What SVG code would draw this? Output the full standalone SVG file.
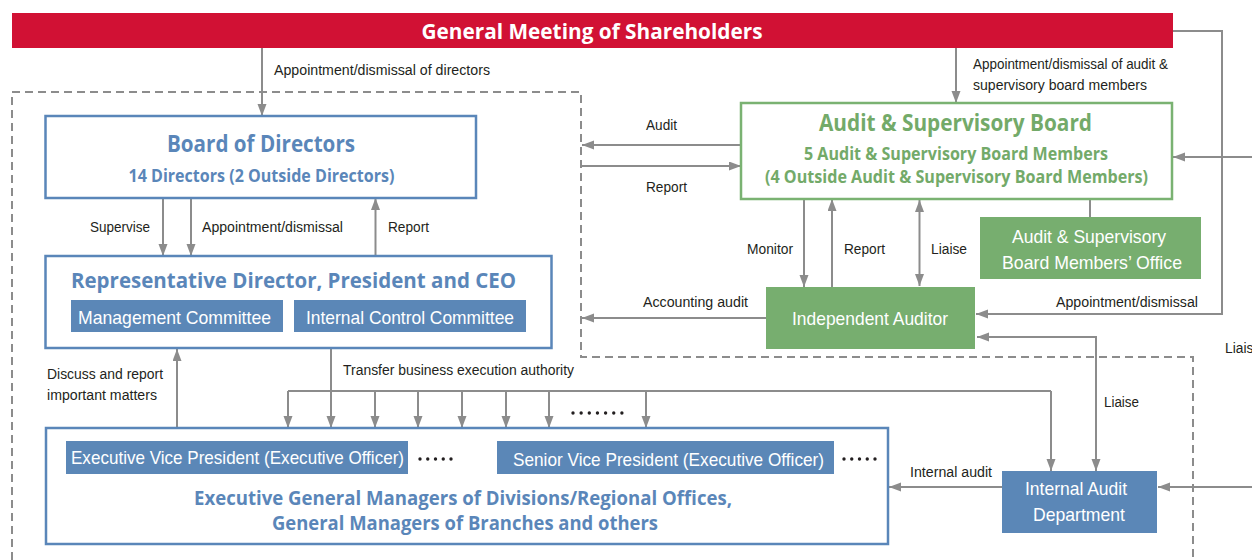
<svg xmlns="http://www.w3.org/2000/svg" width="1252" height="560" viewBox="0 0 1252 560">
<defs>
<marker id="ah" markerUnits="userSpaceOnUse" markerWidth="13" markerHeight="10" refX="12" refY="4.5" orient="auto-start-reverse"><path d="M0,0 L12,4.5 L0,9 z" fill="#8c8c8c"/></marker>
</defs>
<style>
.lbl{font-family:"Liberation Sans Narrow","Liberation Sans",sans-serif;font-size:14px;fill:#231f20}
.wt{font-family:"Liberation Sans Narrow","Liberation Sans",sans-serif;font-size:19px;fill:#ffffff}
.bt{font-family:"Open Sans","Noto Sans",sans-serif;font-weight:700;fill:#5a86b9}
.gt{font-family:"Open Sans","Noto Sans",sans-serif;font-weight:700;fill:#73aa69}
.ht{font-family:"Open Sans","Noto Sans",sans-serif;font-weight:700;fill:#ffffff;font-size:21px}
.ln{fill:none;stroke:#8c8c8c;stroke-width:2}
.arr{marker-end:url(#ah)}
.dbl{marker-start:url(#ah);marker-end:url(#ah)}
.bbox{fill:#ffffff;stroke:#5a86b9;stroke-width:2.5}
.bfill{fill:#5b87b7}
.gbox{fill:#ffffff;stroke:#7ab272;stroke-width:2.5}
.gfill{fill:#77ae6f}
.dash{fill:none;stroke:#8c8c8c;stroke-width:2;stroke-dasharray:8 5}
.dots{fill:none;stroke:#231f20;stroke-width:3.4;stroke-linecap:round}
</style>

<path class="dash" d="M12,560 L12,92 L581,92 L581,357 L1193,357 L1193,560"/>

<g id="connectors">
  <path class="ln arr" d="M262,48 V116"/>
  <path class="ln arr" d="M956,48 V103"/>
  <path class="ln arr" d="M1173,31 H1222 V314 H976"/>
  <path class="ln arr" d="M741,145 H582"/>
  <path class="ln arr" d="M582,166 H741"/>
  <path class="ln arr" d="M1252,157 H1173"/>
  <path class="ln arr" d="M163,198 V256"/>
  <path class="ln arr" d="M191,198 V256"/>
  <path class="ln arr" d="M375.5,256 V198"/>
  <path class="ln arr" d="M804,199 V287"/>
  <path class="ln arr" d="M832,287 V199"/>
  <path class="ln dbl" d="M919.5,200 V286"/>
  <path class="ln" d="M1090,199 V217"/>
  <path class="ln arr" d="M766,318 H582"/>
  <path class="ln dbl" d="M977,337 H1096 V471"/>
  <path class="ln" d="M331,348 V391 M288,391 H1051"/>
  <path class="ln arr" d="M288,391 V428"/>
  <path class="ln arr" d="M331,391 V428"/>
  <path class="ln arr" d="M375,391 V428"/>
  <path class="ln arr" d="M418,391 V428"/>
  <path class="ln arr" d="M462,391 V428"/>
  <path class="ln arr" d="M506,391 V428"/>
  <path class="ln arr" d="M549,391 V428"/>
  <path class="ln arr" d="M646,391 V428"/>
  <path class="ln arr" d="M1051,391 V471"/>
  <path class="ln arr" d="M177,428 V349"/>
  <path class="ln arr" d="M1002,487 H889"/>
  <path class="ln arr" d="M1252,487 H1158"/>
  <path class="dots" stroke-dasharray="0 8.15" d="M573,413 H623"/>
  <text class="lbl" x="274" y="75" textLength="216" lengthAdjust="spacingAndGlyphs">Appointment/dismissal of directors</text>
  <text class="lbl" x="973" y="69" textLength="195" lengthAdjust="spacingAndGlyphs">Appointment/dismissal of audit &amp;</text>
  <text class="lbl" x="973" y="90" textLength="174" lengthAdjust="spacingAndGlyphs">supervisory board members</text>
  <text class="lbl" x="646" y="130" textLength="31" lengthAdjust="spacingAndGlyphs">Audit</text>
  <text class="lbl" x="646" y="192" textLength="41" lengthAdjust="spacingAndGlyphs">Report</text>
  <text class="lbl" x="90" y="232" textLength="60" lengthAdjust="spacingAndGlyphs">Supervise</text>
  <text class="lbl" x="202" y="232" textLength="141" lengthAdjust="spacingAndGlyphs">Appointment/dismissal</text>
  <text class="lbl" x="388" y="232" textLength="41" lengthAdjust="spacingAndGlyphs">Report</text>
  <text class="lbl" x="747" y="254" textLength="46" lengthAdjust="spacingAndGlyphs">Monitor</text>
  <text class="lbl" x="844" y="254" textLength="41" lengthAdjust="spacingAndGlyphs">Report</text>
  <text class="lbl" x="931" y="254" textLength="36" lengthAdjust="spacingAndGlyphs">Liaise</text>
  <text class="lbl" x="643" y="307" textLength="105" lengthAdjust="spacingAndGlyphs">Accounting audit</text>
  <text class="lbl" x="1056" y="307" textLength="142" lengthAdjust="spacingAndGlyphs">Appointment/dismissal</text>
  <text class="lbl" x="1225" y="353" textLength="36" lengthAdjust="spacingAndGlyphs">Liaise</text>
  <text class="lbl" x="343" y="375" textLength="231" lengthAdjust="spacingAndGlyphs">Transfer business execution authority</text>
  <text class="lbl" x="47" y="379" textLength="116" lengthAdjust="spacingAndGlyphs">Discuss and report</text>
  <text class="lbl" x="47" y="400" textLength="110" lengthAdjust="spacingAndGlyphs">important matters</text>
  <text class="lbl" x="1104" y="407" textLength="35" lengthAdjust="spacingAndGlyphs">Liaise</text>
  <text class="lbl" x="910" y="477" textLength="82" lengthAdjust="spacingAndGlyphs">Internal audit</text>
</g>

<g id="gms">
  <rect x="12" y="13" width="1161" height="35" fill="#d11134"/>
  <text class="ht" x="592" y="39" text-anchor="middle" textLength="341" lengthAdjust="spacingAndGlyphs">General Meeting of Shareholders</text>
</g>

<g id="board">
  <rect class="bbox" x="45.5" y="116" width="430.5" height="82"/>
  <text class="bt" x="261" y="152" font-size="23" text-anchor="middle" textLength="188" lengthAdjust="spacingAndGlyphs">Board of Directors</text>
  <text class="bt" x="261.5" y="182" font-size="17" text-anchor="middle" textLength="266" lengthAdjust="spacingAndGlyphs">14 Directors (2 Outside Directors)</text>
</g>

<g id="ceo">
  <rect class="bbox" x="45.5" y="256" width="506" height="92"/>
  <text class="bt" x="293.5" y="288" font-size="22" text-anchor="middle" textLength="445" lengthAdjust="spacingAndGlyphs">Representative Director, President and CEO</text>
  <rect class="bfill" x="71" y="300" width="212" height="32"/>
  <text class="wt" x="174.5" y="324" text-anchor="middle" textLength="193" lengthAdjust="spacingAndGlyphs">Management Committee</text>
  <rect class="bfill" x="294" y="300" width="232" height="32"/>
  <text class="wt" x="410" y="324" text-anchor="middle" textLength="208" lengthAdjust="spacingAndGlyphs">Internal Control Committee</text>
</g>

<g id="asb">
  <rect class="gbox" x="741" y="103" width="431" height="96"/>
  <text class="gt" x="955.5" y="131" font-size="23" text-anchor="middle" textLength="273" lengthAdjust="spacingAndGlyphs">Audit &amp; Supervisory Board</text>
  <text class="gt" x="956" y="160" font-size="17" text-anchor="middle" textLength="304" lengthAdjust="spacingAndGlyphs">5 Audit &amp; Supervisory Board Members</text>
  <text class="gt" x="956.5" y="183" font-size="17" text-anchor="middle" textLength="383" lengthAdjust="spacingAndGlyphs">(4 Outside Audit &amp; Supervisory Board Members)</text>
</g>

<g id="office">
  <rect class="gfill" x="980" y="217" width="221" height="62"/>
  <text class="wt" x="1089" y="243" text-anchor="middle" textLength="154" lengthAdjust="spacingAndGlyphs">Audit &amp; Supervisory</text>
  <text class="wt" x="1092" y="269" text-anchor="middle" textLength="180" lengthAdjust="spacingAndGlyphs">Board Members’ Office</text>
</g>

<g id="auditor">
  <rect class="gfill" x="766" y="287" width="209" height="62"/>
  <text class="wt" x="870" y="325" text-anchor="middle" textLength="156" lengthAdjust="spacingAndGlyphs">Independent Auditor</text>
</g>

<g id="exec">
  <rect class="bbox" x="46" y="428" width="842" height="116"/>
  <rect class="bfill" x="66" y="441" width="342" height="33"/>
  <text class="wt" x="71" y="464" textLength="333" lengthAdjust="spacingAndGlyphs">Executive Vice President (Executive Officer)</text>
  <path class="dots" stroke-dasharray="0 7.75" d="M420,459 H452"/>
  <rect class="bfill" x="497" y="441" width="337" height="33"/>
  <text class="wt" x="513" y="466" textLength="311" lengthAdjust="spacingAndGlyphs">Senior Vice President (Executive Officer)</text>
  <path class="dots" stroke-dasharray="0 7.75" d="M844,459 H876"/>
  <text class="bt" x="463" y="505" font-size="20" text-anchor="middle" textLength="538" lengthAdjust="spacingAndGlyphs">Executive General Managers of Divisions/Regional Offices,</text>
  <text class="bt" x="465" y="530" font-size="20" text-anchor="middle" textLength="386" lengthAdjust="spacingAndGlyphs">General Managers of Branches and others</text>
</g>

<g id="iad">
  <rect class="bfill" x="1002" y="471" width="155" height="62"/>
  <text class="wt" x="1076" y="495" text-anchor="middle" textLength="102" lengthAdjust="spacingAndGlyphs">Internal Audit</text>
  <text class="wt" x="1079" y="521" text-anchor="middle" textLength="92" lengthAdjust="spacingAndGlyphs">Department</text>
</g>
</svg>
